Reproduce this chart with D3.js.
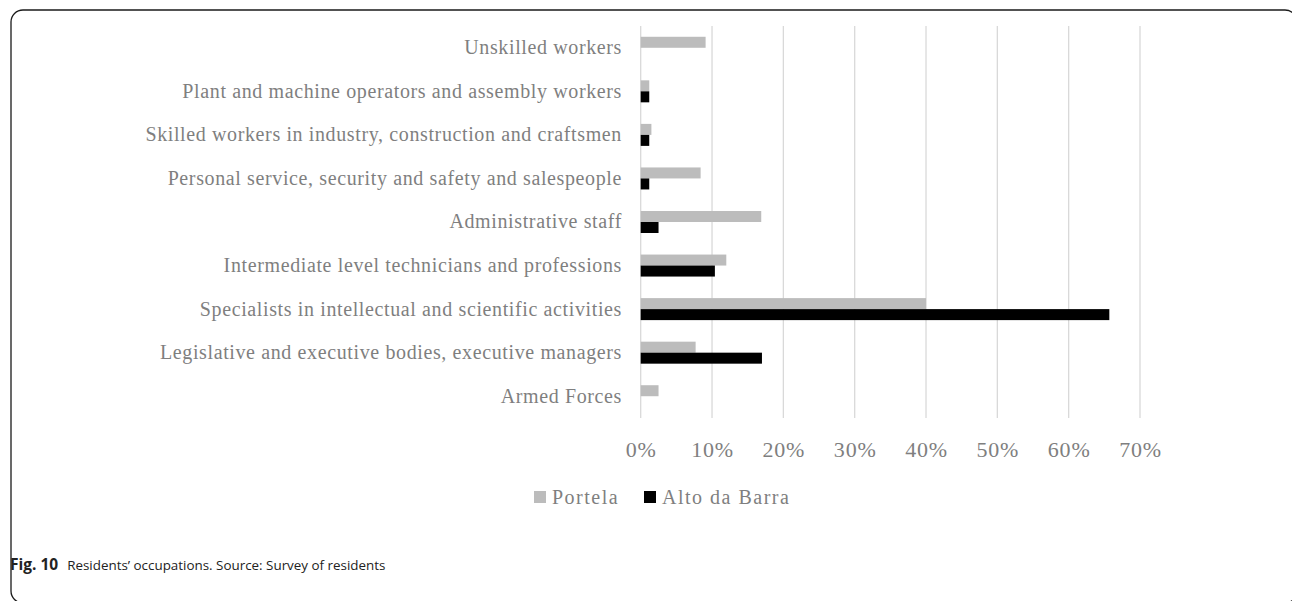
<!DOCTYPE html>
<html>
<head>
<meta charset="utf-8">
<script src="https://cdn.jsdelivr.net/npm/d3@7"></script>
<style>
  html, body { margin: 0; padding: 0; background: #fff; }
  svg { display: block; }
</style>
</head>
<body>
<svg id="chart" width="1292" height="601"></svg>
<script>
const categories = [
  "Unskilled workers",
  "Plant and machine operators and assembly workers",
  "Skilled workers in industry, construction and craftsmen",
  "Personal service, security and safety and salespeople",
  "Administrative staff",
  "Intermediate level technicians and professions",
  "Specialists in intellectual and scientific activities",
  "Legislative and executive bodies, executive managers",
  "Armed Forces"
];
const seriesNames = ["Portela", "Alto da Barra"];
const portela = [9.1, 1.2, 1.5, 8.4, 16.9, 12.0, 40.0, 7.7, 2.5];
const altoDaBarra = [0, 1.2, 1.2, 1.2, 2.5, 10.4, 65.7, 17.0, 0];
const xTicks = [0, 10, 20, 30, 40, 50, 60, 70];
const captionBold = "Fig. 10";
const captionText = "Residents\u2019 occupations. Source: Survey of residents";

const svg = d3.select("#chart");
const colors = { "Portela": "#bcbcbc", "Alto da Barra": "#000000" };
const textColor = "#7f7f7f";
const serif = "'Liberation Serif', 'Times New Roman', serif";

// frame
svg.append("rect")
  .attr("x", 11).attr("y", 10).attr("width", 1286).attr("height", 593)
  .attr("rx", 12).attr("ry", 12)
  .attr("fill", "none").attr("stroke", "#1a1a1a").attr("stroke-width", 1.3);

const x = d3.scaleLinear().domain([0, 70]).range([640.7, 1140]);
const y = d3.scaleBand().domain(categories).range([26, 418]).paddingInner(0).paddingOuter(0);
const inner = d3.scaleBand().domain(seriesNames).range([y.bandwidth()/2 - 11, y.bandwidth()/2 + 11]);

// gridlines
svg.append("g").selectAll("line").data(xTicks).join("line")
  .attr("x1", d => x(d)).attr("x2", d => x(d))
  .attr("y1", 26).attr("y2", 418)
  .attr("stroke", "#d9d9d9").attr("stroke-width", 1.3);

// bars
const data = categories.map((c, i) => ({ c, vals: [
  { s: "Portela", v: portela[i] },
  { s: "Alto da Barra", v: altoDaBarra[i] }
]}));
const groups = svg.append("g").selectAll("g").data(data).join("g")
  .attr("transform", d => `translate(0,${y(d.c)})`);
groups.selectAll("rect").data(d => d.vals.filter(e => e.v > 0)).join("rect")
  .attr("x", x(0))
  .attr("y", d => inner(d.s))
  .attr("width", d => x(d.v) - x(0))
  .attr("height", inner.bandwidth())
  .attr("fill", d => colors[d.s]);

// category labels
const yAxis = d3.axisLeft(y).tickSize(0).tickPadding(0);
const gy = svg.append("g").attr("transform", "translate(622,0)").call(yAxis);
gy.select(".domain").remove();
gy.selectAll("text")
  .attr("font-family", serif).attr("font-size", 20)
  .attr("letter-spacing", "0.62px")
  .attr("fill", textColor).attr("dy", "0.32em");

// x axis labels
const xAxis = d3.axisBottom(x).tickValues(xTicks).tickSize(0).tickPadding(0).tickFormat(d => d + "%");
const gx = svg.append("g").attr("transform", "translate(0,457)").call(xAxis);
gx.select(".domain").remove();
gx.selectAll("text")
  .attr("font-family", serif).attr("font-size", 22)
  .attr("letter-spacing", "0.8px")
  .attr("fill", textColor).attr("y", 0).attr("dy", 0);

// legend
const legend = svg.append("g").attr("transform", "translate(0,497)");
const legendItems = [
  { s: "Portela", x: 534 },
  { s: "Alto da Barra", x: 644 }
];
legendItems.forEach(it => {
  legend.append("rect").attr("x", it.x).attr("y", -6).attr("width", 12).attr("height", 12)
    .attr("fill", colors[it.s]);
  legend.append("text").attr("x", it.x + 18).attr("y", 7)
    .attr("font-family", serif).attr("font-size", 20).attr("letter-spacing", "1.5px")
    .attr("fill", textColor)
    .text(it.s);
});

// caption
const cap = svg.append("text").attr("x", 10).attr("y", 570)
  .attr("font-family", "'Open Sans', 'Noto Sans', sans-serif").attr("font-size", 13.4).attr("fill", "#222");
cap.append("tspan").attr("font-weight", "bold").attr("font-size", 15.5).text(captionBold);
cap.append("tspan").attr("dx", 9).text(captionText);
</script>
</body>
</html>
